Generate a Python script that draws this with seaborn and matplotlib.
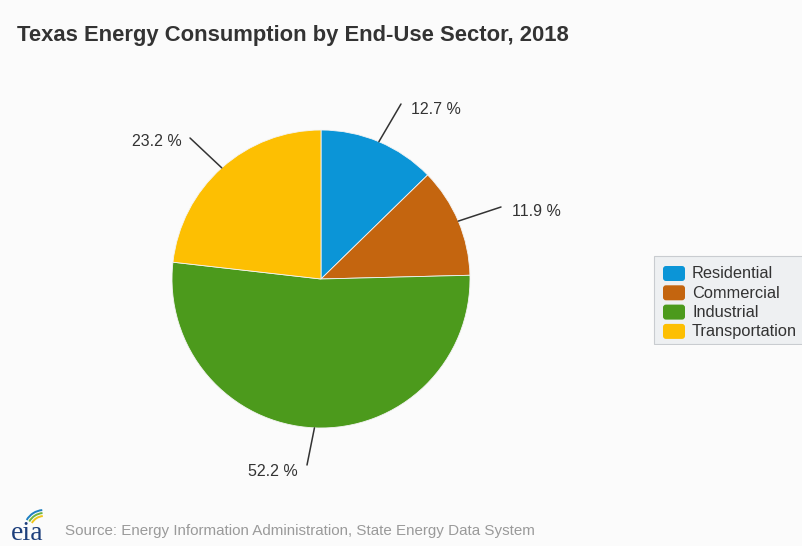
import numpy as np
import matplotlib
matplotlib.use("Agg")
import matplotlib.pyplot as plt
from matplotlib.patches import Arc, FancyBboxPatch
import seaborn as sns

# Data: Texas energy consumption shares by end-use sector, 2018
sectors = ["Residential", "Commercial", "Industrial", "Transportation"]
shares = [12.7, 11.9, 52.2, 23.2]
colors = ["#0b95d7", "#c4650f", "#4c9a1c", "#fdbf02"]

title = "Texas Energy Consumption by End-Use Sector, 2018"
source = "Source: Energy Information Administration, State Energy Data System"

sns.set_theme(style="white")
plt.rcParams["font.family"] = ["Liberation Sans", "DejaVu Sans"]

W, H = 802, 546
fig = plt.figure(figsize=(W / 100, H / 100), dpi=100)
fig.patch.set_facecolor("#fbfbfb")

# Axes laid out in pixel-like units, pie centred at (321, 279) from top-left
cx, cy, R = 321, 279, 149
half = 200
ax = fig.add_axes([(cx - half) / W, (H - cy - half) / H, 2 * half / W, 2 * half / H])

palette = sns.color_palette(colors)
wedges, _ = ax.pie(shares, colors=palette, startangle=90, counterclock=False,
                   radius=R, center=(0, 0), frame=True,
                   wedgeprops=dict(edgecolor="#f4f4f4", linewidth=0.6))
ax.set_xlim(-half, half)
ax.set_ylim(-half, half)
ax.set_aspect("auto")
ax.axis("off")

# Leader lines and percentage labels (label anchor offsets in pixels)
label_ends = [(80, 175), (180, 72), (-14, -186), (-131, 141)]
text_offsets = [(10, -5), (11, -5), (-9, -6), (-8, -4)]
cum = np.cumsum([0] + shares[:-1])
for val, start, (ex, ey), (dx, dy) in zip(shares, cum, label_ends, text_offsets):
    mid = np.deg2rad(90 - (start + val / 2) / 100 * 360)
    px, py = R * np.cos(mid), R * np.sin(mid)
    ax.plot([px, ex], [py, ey], color="#333333", lw=1.1, solid_capstyle="round")
    txt = f"{val} %"
    ax.text(ex + dx, ey + dy, txt, ha="left" if ex >= 0 else "right", va="center",
            fontsize=11.5, color="#333333")

# Title
fig.text(17 / W, 1 - 35 / H, title, ha="left", va="center", fontsize=15.8,
         fontweight="bold", color="#333333")

# Legend box
lx0, ly0, lw_, lh_ = 653, 255, 152, 90
leg_ax = fig.add_axes([lx0 / W, (H - ly0 - lh_) / H, lw_ / W, lh_ / H])
leg_ax.set_xlim(0, lw_)
leg_ax.set_ylim(lh_, 0)
leg_ax.axis("off")
leg_ax.add_patch(FancyBboxPatch((1, 1), lw_ + 10, lh_ - 2, boxstyle="square,pad=0",
                                facecolor="#eef0f2", edgecolor="#c9ccd0", lw=0.8))
for i, (name, c) in enumerate(zip(sectors, palette)):
    y = 18.5 + i * 19.3
    leg_ax.add_patch(FancyBboxPatch((10, y - 7.5), 22, 15,
                                    boxstyle="round,pad=0,rounding_size=3",
                                    facecolor=c, edgecolor="none"))
    leg_ax.text(39, y + 0.5, name, ha="left", va="center", fontsize=11.8, color="#333333")

# Source line with agency mark
fig.text(65 / W, 1 - 531 / H, source, ha="left", va="center", fontsize=10.9,
         color="#9a9a9a")
fig.text(11 / W, 1 - 533 / H, "eia", ha="left", va="center", fontsize=20,
         family=["Liberation Serif", "DejaVu Serif"], color="#1d3f7c")
logo = fig.add_axes([10 / W, (H - 528) / H, 44 / W, 20 / H])
logo.set_xlim(0, 44)
logo.set_ylim(0, 20)
logo.axis("off")
for r, col in zip([14, 17, 20], ["#f0c419", "#6fb43f", "#1d7fc1"]):
    logo.add_patch(Arc((34, -2), 2 * r, 2 * r, theta1=95, theta2=150, color=col, lw=1.4))

fig.savefig("out.png", dpi=100, facecolor=fig.get_facecolor())
